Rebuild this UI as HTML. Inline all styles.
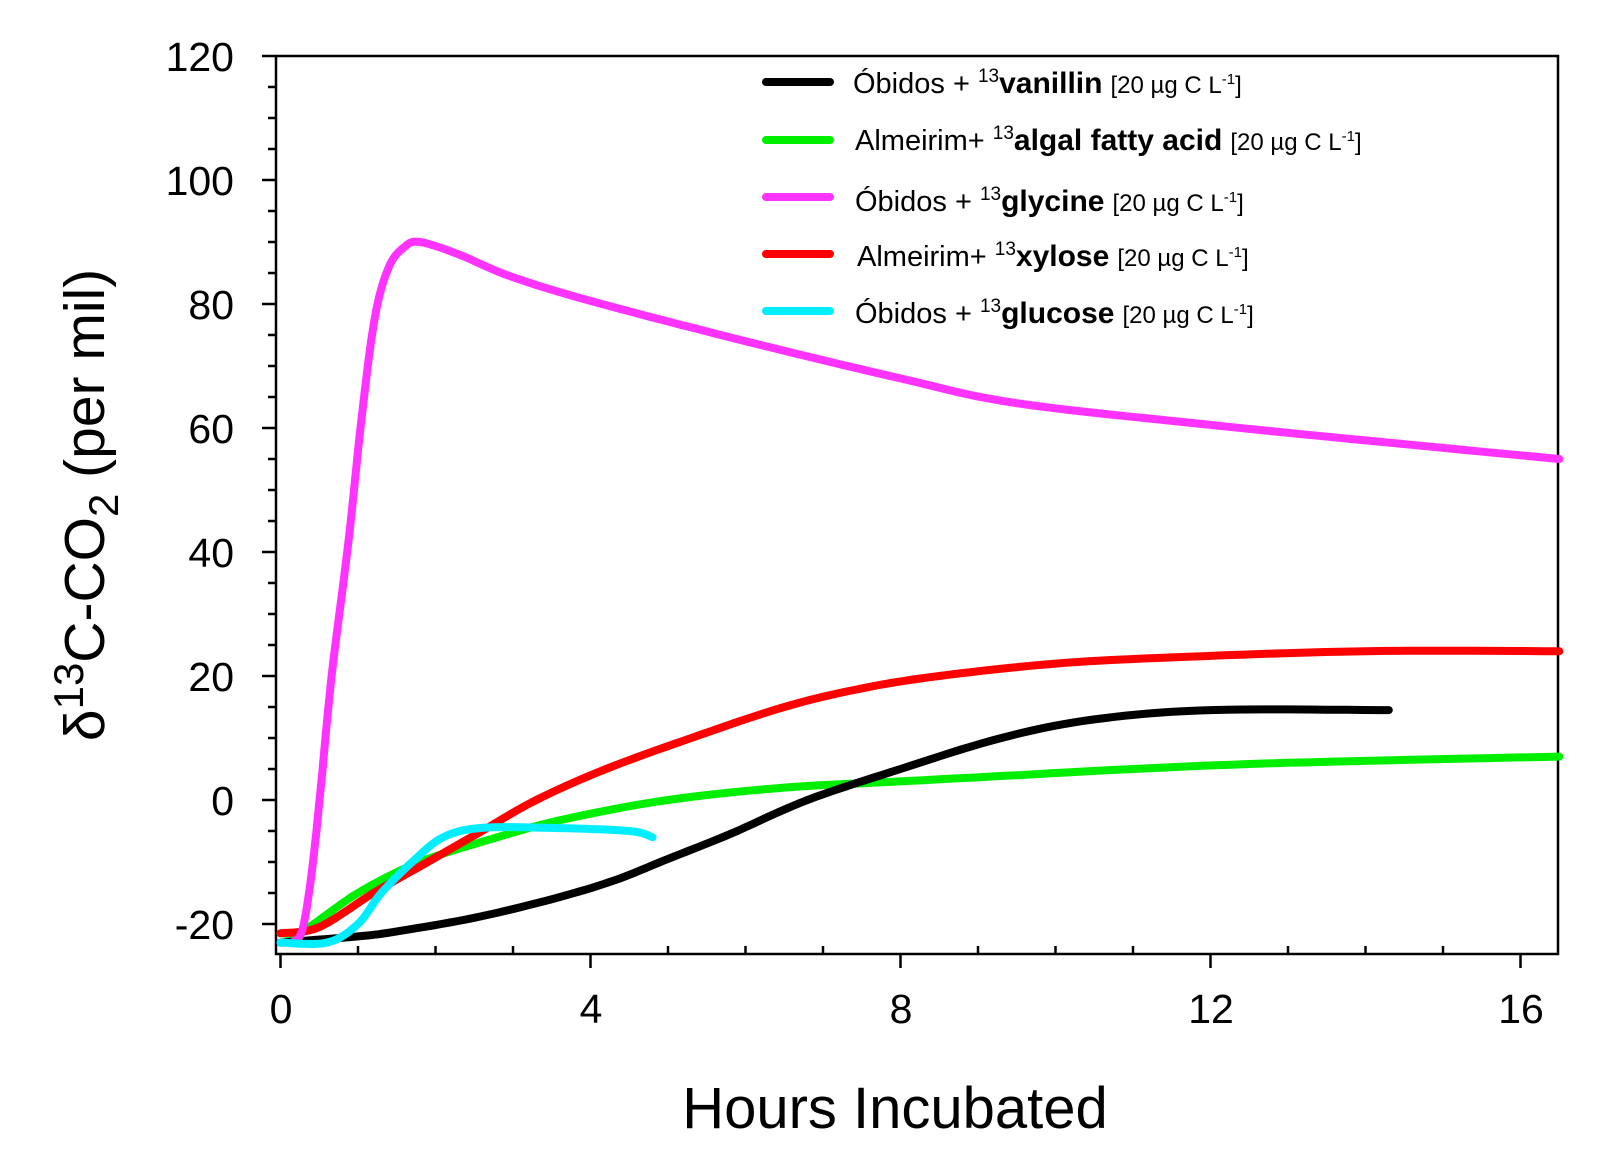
<!DOCTYPE html>
<html><head><meta charset="utf-8"><style>
html,body{margin:0;padding:0;background:#fff;}
svg{display:block;}
text{font-family:"Liberation Sans",sans-serif;}
</style></head><body>
<svg id="s" width="1600" height="1164" viewBox="0 0 1600 1164" xmlns="http://www.w3.org/2000/svg">
<rect width="1600" height="1164" fill="#fff"/>
<g id="ticks" stroke="#000" stroke-width="2.5"></g>
<rect x="276" y="56" width="1282" height="898" fill="none" stroke="#000" stroke-width="2.5"/>
<g font-size="41" text-anchor="end" fill="#000">
<text x="234" y="71">120</text><text x="234" y="195">100</text><text x="234" y="319">80</text>
<text x="234" y="443">60</text><text x="234" y="567">40</text><text x="234" y="691">20</text>
<text x="234" y="815">0</text><text x="234" y="939">-20</text>
</g>
<g font-size="41" text-anchor="middle" fill="#000">
<text x="281" y="1023">0</text><text x="591" y="1023">4</text><text x="901" y="1023">8</text>
<text x="1211" y="1023">12</text><text x="1521" y="1023">16</text>
</g>
<text x="895" y="1128" font-size="58" text-anchor="middle">Hours Incubated</text>
<text transform="translate(104,505) rotate(-90)" font-size="57" text-anchor="middle">δ<tspan dy="-21" font-size="42">13</tspan><tspan dy="21">C-CO</tspan><tspan dy="14" font-size="42">2</tspan><tspan dy="-14"> (per mil)</tspan></text>
<g id="curves" fill="none" stroke-width="8" stroke-linejoin="round" stroke-linecap="round"></g>
<g stroke-width="8" stroke-linecap="round">
<line x1="766" y1="82" x2="830" y2="82" stroke="#000"/>
<line x1="766" y1="140" x2="830" y2="140" stroke="#00ee00"/>
<line x1="766" y1="197" x2="830" y2="197" stroke="#ff33ff"/>
<line x1="766" y1="254" x2="830" y2="254" stroke="#ff0000"/>
<line x1="766" y1="311" x2="830" y2="311" stroke="#00eeff"/>
</g>
<g font-size="29" fill="#000">
<text x="853" y="93">Óbidos + <tspan font-size="19" dy="-11">13</tspan><tspan dy="11" font-weight="bold" font-size="30">vanillin</tspan> <tspan font-size="24">[20 µg C L<tspan font-size="15" dy="-9">-1</tspan><tspan dy="9">]</tspan></tspan></text>
<text x="855" y="150">Almeirim+ <tspan font-size="19" dy="-11">13</tspan><tspan dy="11" font-weight="bold" font-size="30">algal fatty acid</tspan> <tspan font-size="24">[20 µg C L<tspan font-size="15" dy="-9">-1</tspan><tspan dy="9">]</tspan></tspan></text>
<text x="855" y="211">Óbidos + <tspan font-size="19" dy="-11">13</tspan><tspan dy="11" font-weight="bold" font-size="30">glycine</tspan> <tspan font-size="24">[20 µg C L<tspan font-size="15" dy="-9">-1</tspan><tspan dy="9">]</tspan></tspan></text>
<text x="857" y="266">Almeirim+ <tspan font-size="19" dy="-11">13</tspan><tspan dy="11" font-weight="bold" font-size="30">xylose</tspan> <tspan font-size="24">[20 µg C L<tspan font-size="15" dy="-9">-1</tspan><tspan dy="9">]</tspan></tspan></text>
<text x="855" y="323">Óbidos + <tspan font-size="19" dy="-11">13</tspan><tspan dy="11" font-weight="bold" font-size="30">glucose</tspan> <tspan font-size="24">[20 µg C L<tspan font-size="15" dy="-9">-1</tspan><tspan dy="9">]</tspan></tspan></text>
</g>
</svg>
<script>
var X=function(h){return 280.5+77.5*h;},Y=function(v){return 800-6.2*v;};
var NS="http://www.w3.org/2000/svg";
var t=document.getElementById("ticks"),h="";
for(var v=-20;v<=120;v+=5){var y=Y(v),major=(v%20===0);h+='<line x1="'+(major?262:268)+'" y1="'+y+'" x2="276" y2="'+y+'"/>';}
for(var k=0;k<=16;k++){var x=X(k);if(k%4===0)h+='<line x1="'+x+'" y1="954" x2="'+x+'" y2="968"/>';else h+='<line x1="'+x+'" y1="946" x2="'+x+'" y2="954"/>';}
t.innerHTML=h;
function cr(p){var out=[];for(var i=0;i<p.length-1;i++){var p0=p[Math.max(i-1,0)],p1=p[i],p2=p[i+1],p3=p[Math.min(i+2,p.length-1)];for(var s=0;s<10;s++){var u=s/10,u2=u*u,u3=u2*u;var f=function(a,b,c,d){return 0.5*(2*b+(-a+c)*u+(2*a-5*b+4*c-d)*u2+(-a+3*b-3*c+d)*u3);};out.push([f(p0[0],p1[0],p2[0],p3[0]),f(p0[1],p1[1],p2[1],p3[1])]);}}out.push(p[p.length-1]);return out;}
var series=[
["#00ee00",[[0,-21.5],[0.3,-21],[1,-15],[1.8,-10],[2.8,-6],[3.7,-3],[5,0],[6.5,2],[8,3],[9.5,4],[11,5],[13,6],[16.5,7]]],
["#ff0000",[[0,-21.5],[0.5,-20.5],[1.2,-15],[1.9,-10],[2.6,-5],[3.3,0],[4.2,5],[5.3,10],[6.5,15],[7.5,18],[8.5,20],[10,22],[11.5,23],[14,24],[16.5,24]]],
["#000000",[[0,-23],[1,-22],[1.5,-21.2],[2.5,-19],[3.5,-16],[4.3,-13],[5,-9.5],[5.8,-5.5],[6.8,0],[8,5],[9.3,10],[10.5,13],[12,14.5],[14.3,14.5]]],
["#ff33ff",[[0.15,-23],[0.28,-21],[0.4,-12],[0.52,2],[0.66,20],[0.88,42],[1.05,62],[1.22,78],[1.4,86],[1.6,89.2],[1.8,90],[2.3,88],[2.96,84.5],[4,80.5],[6,74],[8,68],[9.5,64],[12,60.5],[14,58],[16.5,55]]],
["#00eeff",[[0,-23],[0.6,-23],[1,-20],[1.3,-15],[1.7,-10],[2.1,-6],[2.6,-4.5],[3.5,-4.5],[4.5,-5],[4.8,-6]]]
];
var g=document.getElementById("curves");
series.forEach(function(s){var pts=cr(s[1].map(function(p){return [X(p[0]),Y(p[1])];}));var e=document.createElementNS(NS,"polyline");e.setAttribute("points",pts.map(function(p){return p[0].toFixed(1)+","+p[1].toFixed(1);}).join(" "));e.setAttribute("stroke",s[0]);g.appendChild(e);});
</script>
</body></html>
